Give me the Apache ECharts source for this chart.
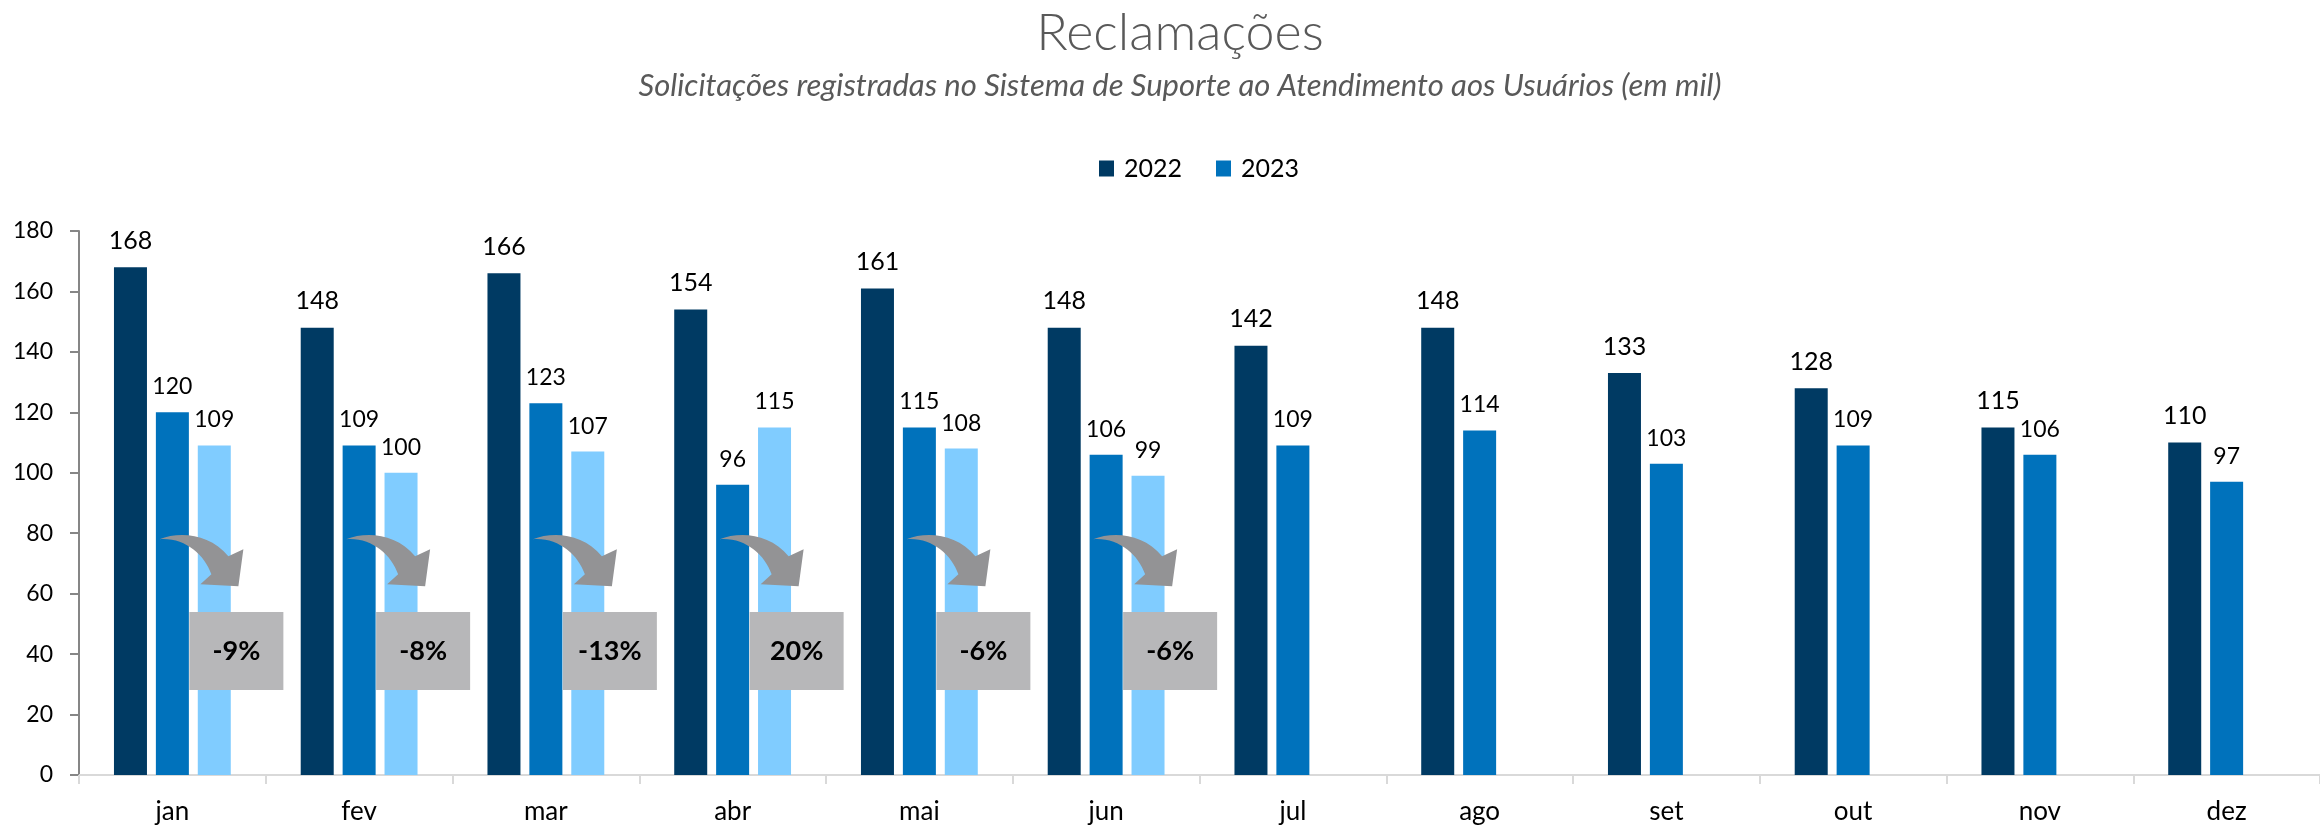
<!DOCTYPE html>
<html>
<head>
<meta charset="utf-8">
<title>Reclamações</title>
<script src="https://cdn.jsdelivr.net/npm/echarts@6/dist/echarts.min.js"></script>
<style>
  html, body { margin: 0; padding: 0; background: #fff; }
  #chart { width: 2320px; height: 829px; }
</style>
</head>
<body>
<div id="chart"></div>
<script>
// dados (em mil)
var meses = ['jan', 'fev', 'mar', 'abr', 'mai', 'jun', 'jul', 'ago', 'set', 'out', 'nov', 'dez'];
var valores2022 = [168, 148, 166, 154, 161, 148, 142, 148, 133, 128, 115, 110];
var valores2023 = [120, 109, 123, 96, 115, 106, 109, 114, 103, 109, 106, 97];
var valores2024 = [109, 100, 107, 115, 108, 99, null, null, null, null, null, null];
// variação 2024 x 2023 (caixas cinzas)
var variacoes = ['-9%', '-8%', '-13%', '20%', '-6%', '-6%'];
var eixoY = { min: 0, max: 180, intervalo: 20 };

var FONTE = 'Lato, "Open Sans", sans-serif';

var dom = document.getElementById('chart');
var myChart = echarts.init(dom);

function labelTopo(tam) {
    return {
        show: true,
        position: 'top',
        distance: 14,
        color: '#000',
        fontFamily: FONTE,
        fontSize: tam
    };
}

// seta curva + caixa com a variação
function desenhaVariacao(params, api) {
    var i = api.value(0);
    var base = api.coord([i, 78]);
    var caixa = api.coord([i, 41]);
    var bw = 94, bh = 78;
    var cx = caixa[0] + 64;
    return {
        type: 'group',
        children: [
            {
                type: 'path',
                x: base[0] - 13,
                y: base[1],
                shape: {
                    pathData: 'M0,0 C20,-8 50,-6 69,17 L84,10 L79,47 L41,45 L52,35 C45,15 25,-2 0,0 Z'
                },
                style: { fill: '#939395' }
            },
            {
                type: 'rect',
                shape: { x: cx - bw / 2, y: caixa[1] - bh / 2, width: bw, height: bh },
                style: { fill: '#b7b7b9' }
            },
            {
                type: 'text',
                x: cx,
                y: caixa[1],
                style: {
                    text: variacoes[params.dataIndex],
                    align: 'center',
                    verticalAlign: 'middle',
                    font: 'bold 27px ' + FONTE,
                    fill: '#000'
                }
            }
        ]
    };
}

var option = {
    animation: false,
    backgroundColor: '#fff',
    graphic: [
        {
            type: 'text',
            x: 1180,
            y: 33,
            style: {
                text: 'Reclamações',
                align: 'center',
                verticalAlign: 'middle',
                font: '300 52px ' + FONTE,
                fill: '#595959'
            }
        },
        {
            type: 'text',
            x: 1180,
            y: 86,
            style: {
                text: 'Solicitações registradas no Sistema de Suporte ao Atendimento aos Usuários (em mil)',
                align: 'center',
                verticalAlign: 'middle',
                font: 'italic 31px ' + FONTE,
                fill: '#595959'
            }
        }
    ],
    legend: {
        data: ['2022', '2023'],
        left: 1099,
        top: 156,
        padding: 0,
        itemWidth: 15,
        itemHeight: 16,
        itemGap: 34,
        icon: 'rect',
        textStyle: { fontFamily: FONTE, fontSize: 25, color: '#000', padding: [0, 0, 0, 5] }
    },
    grid: {
        left: 79,
        top: 231,
        width: 2254,
        height: 544,
        containLabel: false
    },
    xAxis: {
        type: 'category',
        data: meses,
        axisLine: { lineStyle: { color: '#d9d9d9', width: 2 } },
        axisTick: { show: true, length: 9, lineStyle: { color: '#d9d9d9', width: 2 } },
        axisLabel: { margin: 24, color: '#000', fontFamily: FONTE, fontSize: 26 }
    },
    yAxis: {
        type: 'value',
        min: eixoY.min,
        max: eixoY.max,
        interval: eixoY.intervalo,
        splitLine: { show: false },
        axisLine: { show: true, lineStyle: { color: '#868686', width: 2 } },
        axisTick: { show: true, length: 9, lineStyle: { color: '#868686', width: 2 } },
        axisLabel: { margin: 26, color: '#000', fontFamily: FONTE, fontSize: 23 }
    },
    series: [
        {
            name: '2022',
            type: 'bar',
            data: valores2022,
            barWidth: 33,
            itemStyle: { color: '#003a63' },
            label: labelTopo(25)
        },
        {
            name: '2023',
            type: 'bar',
            data: valores2023,
            barWidth: 33,
            itemStyle: { color: '#0072bc' },
            label: labelTopo(23)
        },
        {
            name: '2024',
            type: 'bar',
            data: valores2024,
            barWidth: 33,
            barGap: '27%',
            itemStyle: { color: '#80ccff' },
            label: labelTopo(23)
        },
        {
            name: 'variacao',
            type: 'custom',
            renderItem: desenhaVariacao,
            data: variacoes.map(function (v, i) { return [i, 0]; }),
            z: 10,
            silent: true
        }
    ]
};

myChart.setOption(option);
</script>
</body>
</html>
